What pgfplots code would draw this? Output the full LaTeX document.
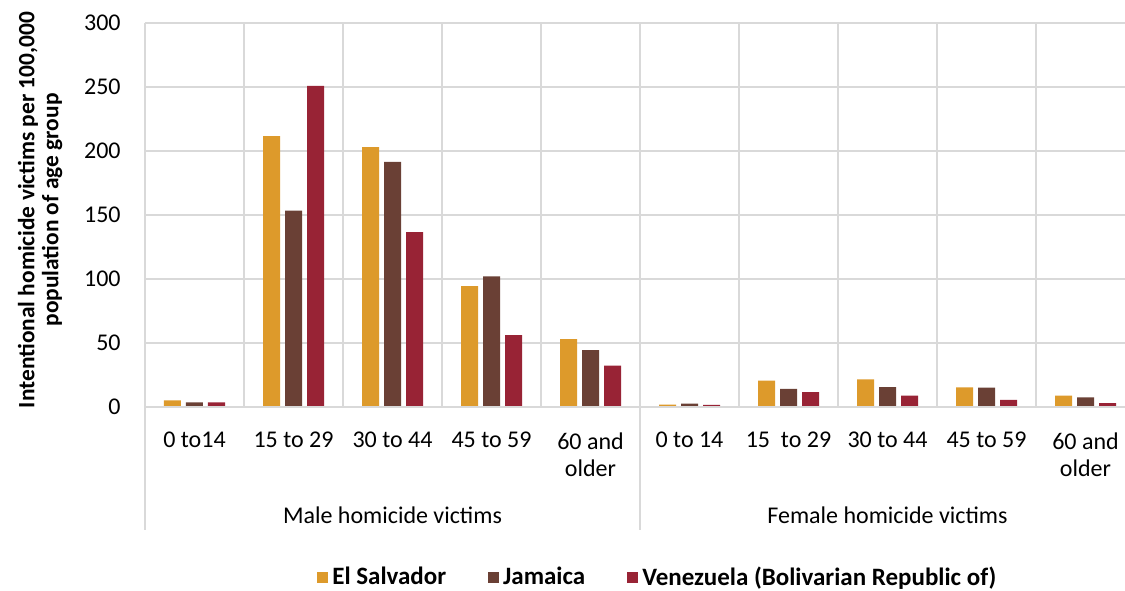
\documentclass[border=0pt]{standalone}
\usepackage{pgfplots}
\pgfplotsset{compat=1.18}
\usepackage{fontspec}
\setmainfont{Carlito}
\definecolor{cES}{HTML}{DD9A2B}
\definecolor{cJA}{HTML}{6A4035}
\definecolor{cVE}{HTML}{982335}
\definecolor{gridg}{HTML}{D9D9D9}
\begin{document}
\fontsize{12pt}{13.5pt}\selectfont
\begin{tikzpicture}
\path[use as bounding box] (0,0) rectangle (562.5pt,295pt);
\begin{axis}[
  at={(72.5pt,91.5pt)}, anchor=south west,
  scale only axis, width=495pt, height=192pt,
  xmin=0, xmax=10, ymin=0, ymax=300,
  ybar=2.5pt, bar width=8.5pt,
  clip=false,
  axis line style={draw=none},
  major tick length=0pt, minor tick length=0pt,
  xtick={0.5,1.5,2.5,3.5,4.5,5.5,6.5,7.5,8.5,9.5},
  xticklabels={0 to14,15 to 29,30 to 44,45 to 59,{60 and\\older},0 to 14,15\ \ to 29,30 to 44,45 to 59,{60 and\\older}},
  minor xtick={0,1,2,3,4,5,6,7,8,9,10},
  xminorgrids=true, xmajorgrids=false,
  ymajorgrids=true,
  grid style={gridg, line width=0.9pt},
  minor grid style={gridg, line width=0.9pt},
  ytick={0,50,...,300},
  yticklabel style={anchor=east, xshift=-8pt},
  xticklabel style={align=center, anchor=north, yshift=-8.5pt, font=\fontsize{12pt}{13.5pt}\selectfont},
  tick label style={font=\fontsize{12pt}{13.5pt}\selectfont},
  /pgf/number format/assume math mode=true,
  ylabel={Intentional homicide victims per 100,000\\population of age group},
  ylabel style={at={(axis description cs:-0.106,0.513)}, anchor=center, align=center, font=\bfseries\fontsize{11.7pt}{12pt}\selectfont},
  legend style={at={(axis description cs:0.519,-0.445)}, anchor=center, draw=none, fill=none, font=\bfseries\fontsize{12.5pt}{13.5pt}\selectfont, legend columns=3,
    /tikz/every even column/.append style={column sep=19pt}},
  legend image code/.code={\fill[#1] (0pt,-2.75pt) rectangle (5.5pt,2.75pt);},
]
\addplot[fill=cES, draw=none] coordinates {(0.5,5.2) (1.5,211.6) (2.5,203) (3.5,94.5) (4.5,53.1) (5.5,1.8) (6.5,20.6) (7.5,21.6) (8.5,15.4) (9.5,8.9)};
\addplot[fill=cJA, draw=none] coordinates {(0.5,3.6) (1.5,153.5) (2.5,191.5) (3.5,102) (4.5,44.5) (5.5,2.6) (6.5,14.1) (7.5,15.6) (8.5,15.1) (9.5,7.6)};
\addplot[fill=cVE, draw=none] coordinates {(0.5,3.6) (1.5,250.8) (2.5,136.6) (3.5,56.2) (4.5,32.3) (5.5,1.6) (6.5,11.7) (7.5,8.9) (8.5,5.5) (9.5,3.1)};
\legend{El Salvador,Jamaica,Venezuela (Bolivarian Republic of)}
\draw[gridg, line width=0.9pt] (axis cs:0,0) -- (axis cs:10,0);
\draw[gridg, line width=0.9pt] (axis cs:0,0) -- (axis cs:0,-96);
\draw[gridg, line width=0.9pt] (axis cs:5,0) -- (axis cs:5,-96);
\draw[gridg, line width=0.9pt] (axis cs:10,0) -- (axis cs:10,-96);
\node at (axis cs:2.5,-84.4) {Male homicide victims};
\node at (axis cs:7.5,-84.4) {Female homicide victims};
\end{axis}
\end{tikzpicture}
\end{document}
